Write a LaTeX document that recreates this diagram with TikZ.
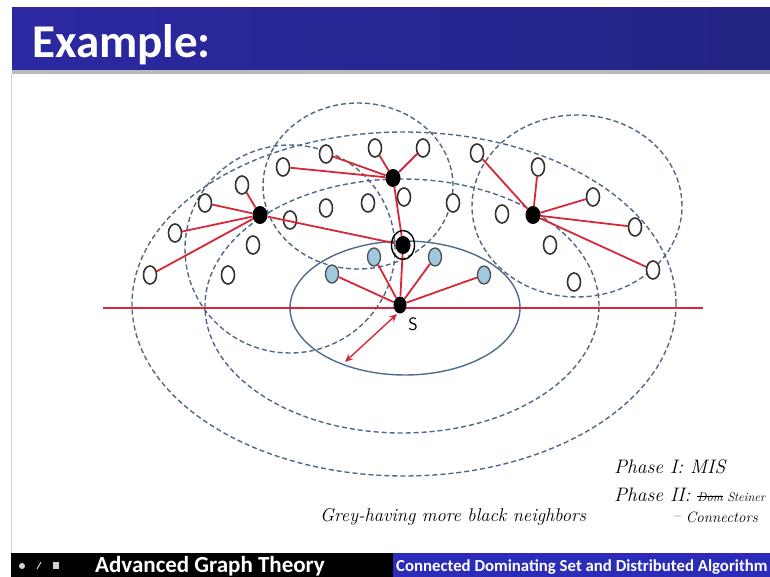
\documentclass[tikz,border=0pt]{standalone}
\usepackage{fontspec}
\newfontfamily\carlito{Carlito}
\usetikzlibrary{shapes.geometric,arrows.meta}
\definecolor{rangeblue}{RGB}{80,104,134}
\definecolor{solidblue}{RGB}{78,108,140}
\definecolor{linered}{RGB}{214,40,57}
\definecolor{nodeblue}{RGB}{160,200,222}
\definecolor{headL}{RGB}{44,40,162}
\definecolor{headR}{RGB}{36,36,132}
\definecolor{footblue}{RGB}{44,44,185}
\newcommand\mystrike[1]{\setbox0\hbox{#1}\rlap{\rule[0.3em]{\wd0}{0.9pt}}\box0\relax}
\begin{document}
\begin{tikzpicture}[x=1pt,y=-1pt,
  hollow/.style={ellipse, draw=black!80, line width=1.6pt, fill=white, minimum width=13pt, minimum height=18pt, inner sep=0pt},
  grayn/.style={ellipse, draw=black!70, line width=1.3pt, fill=nodeblue, minimum width=13pt, minimum height=18pt, inner sep=0pt},
  blk/.style={ellipse, fill=black, minimum width=15pt, minimum height=18pt, inner sep=0pt},
  redge/.style={draw=linered, line width=1.8pt},
  rangeell/.style={draw=rangeblue, line width=1.4pt, dash pattern=on 5pt off 3pt},
  hand/.style={anchor=base west, inner sep=0pt, font=\itshape\fontsize{18.5}{18.5}\selectfont},
]
\useasboundingbox (0,0) rectangle (770,577);
\clip (0,0) rectangle (770,577);
% slide frame
\fill[white] (0,0) rectangle (770,577);
\shade[left color=headL, right color=headR] (12,8) rectangle (770,70);
\fill[gray!55] (12,70) rectangle (770,74);
\draw[gray!40, line width=0.8pt] (11.5,74) -- (11.5,553);
\node[anchor=base west, inner sep=0pt, text=white, font=\carlito\bfseries\fontsize{47}{47}\selectfont] (title) at (32,58) {Example:};
% footer
\fill[black] (11,553) rectangle (393,577);
\fill[footblue] (393,553) rectangle (770,577);
\fill[gray!35] (22,566) circle (3);
\draw[gray!35, line width=1pt] (37,569) -- (41,562);
\fill[gray!35] (53,562) rectangle (59,569);
\node[anchor=base west, inner sep=0pt, text=white, font=\carlito\bfseries\fontsize{23}{23}\selectfont] (foot1) at (95,572) {Advanced Graph Theory};
\node[anchor=base west, inner sep=0pt, text=white, font=\carlito\bfseries\fontsize{16.8}{16.8}\selectfont] (foot2) at (396,571) {Connected Dominating Set and Distributed Algorithm};

% range ellipses
\draw[rangeell] (404,304) ellipse [x radius=272pt, y radius=172pt];
\draw[rangeell] (402,306) ellipse [x radius=197pt, y radius=127pt];
\draw[rangeell] (290,249) ellipse [x radius=105pt, y radius=104pt];
\draw[rangeell] (358,186) ellipse [x radius=95pt, y radius=83pt];
\draw[rangeell] (577,206) ellipse [x radius=105pt, y radius=91pt];
\draw[solidblue, line width=1.4pt] (405,308) ellipse [x radius=115pt, y radius=67pt];

% horizontal line
\coordinate (hl) at (103,308);
\coordinate (hr) at (703,308);
\draw[redge] (hl) -- (hr);

% nodes
\node[hollow] (h1) at (150,275) {};
\node[hollow] (h2) at (175,233) {};
\node[hollow] (h3) at (205,203) {};
\node[hollow] (h4) at (242,185) {};
\node[hollow] (h5) at (283,167) {};
\node[hollow] (h6) at (326,154) {};
\node[hollow] (h7) at (375,148) {};
\node[hollow] (h8) at (423,148) {};
\node[hollow] (h9) at (404,197) {};
\node[hollow] (h10) at (368,203) {};
\node[hollow] (h11) at (326,208) {};
\node[hollow] (h12) at (290,220) {};
\node[hollow] (h13) at (253,245) {};
\node[hollow] (h14) at (228,275) {};
\node[hollow] (h15) at (477,153) {};
\node[hollow] (h16) at (538,167) {};
\node[hollow] (h17) at (593,197) {};
\node[hollow] (h18) at (502,214) {};
\node[hollow] (h19) at (635,227) {};
\node[hollow] (h20) at (453,203) {};
\node[hollow] (h21) at (550,245) {};
\node[hollow] (h22) at (653,270) {};
\node[hollow] (h23) at (574,282) {};

\node[grayn] (g1) at (332,274) {};
\node[grayn] (g2) at (374,257) {};
\node[grayn] (g3) at (435,257) {};
\node[grayn] (g4) at (484,275) {};

\node[blk] (b1) at (260,215) {};
\node[blk] (b2) at (393,178) {};
\node[blk] (b3) at (403,245) {};
\node[blk] (b4) at (533,215) {};
\node[blk, minimum width=13pt, minimum height=17pt] (s) at (400,305) {};

% edges
\foreach \n in {h1,h2,h3,h4} \draw[redge] (b1) -- (\n);
\draw[redge] (b1) -- (b3);
\foreach \n in {h5,h6,h7,h8} \draw[redge] (b2) -- (\n);
\draw[redge] (b2) -- (b3);
\foreach \n in {h15,h16,h17,h19,h22} \draw[redge] (b4) -- (\n);
\foreach \n in {g1,g2,b3,g3,g4} \draw[redge] (s) -- (\n);

% ring round the connector
\node[ellipse, draw=black, line width=1.4pt, minimum width=23pt, minimum height=29pt, inner sep=0pt] (ring) at (b3) {};

% label S and radius arrow
\node[inner sep=0pt, font=\sffamily\fontsize{18}{18}\selectfont] (slab) at (413,324) {S};
\coordinate (ra) at (397,314);
\coordinate (rb) at (345,362);
\draw[draw=linered, line width=1.4pt, {Stealth[length=8pt,width=7pt]}-{Stealth[length=8pt,width=7pt]}] (ra) -- (rb);

% handwritten notes
\node[hand] (note1) at (320,521) {Grey-having more black neighbors};
\node[hand, font=\itshape\fontsize{19.5}{19.5}\selectfont] (note2) at (614,473) {Phase I: MIS};
\node[hand, font=\itshape\fontsize{19.5}{19.5}\selectfont] (note3) at (614,501) {Phase II: {\fontsize{12.5}{12.5}\selectfont\mystrike{Dom} Steiner}};
\node[hand, font=\itshape\fontsize{15}{15}\selectfont] (note4) at (673,522) {\raisebox{2pt}{--} Connectors};
\end{tikzpicture}
\end{document}
